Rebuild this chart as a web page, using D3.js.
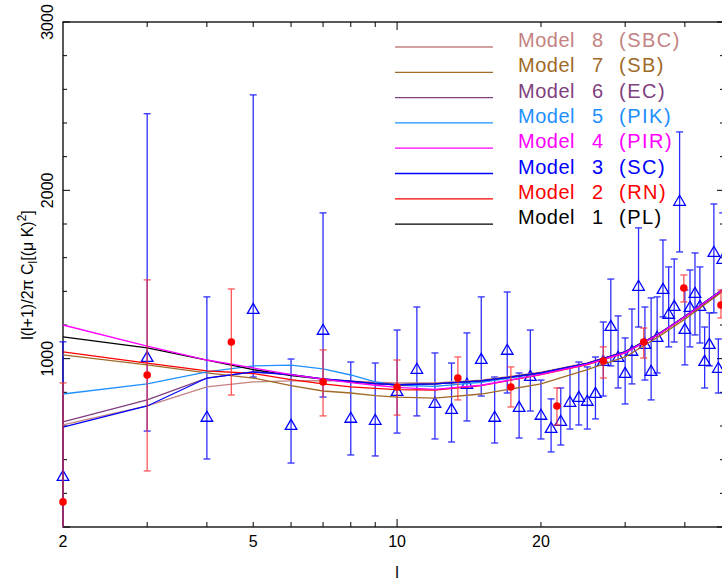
<!DOCTYPE html>
<html>
<head>
<meta charset="utf-8">
<script src="https://cdn.jsdelivr.net/npm/d3@7"></script>
<style>
body { margin: 0; background: #fff; }
svg text { font-family: "Liberation Sans", Arial, sans-serif; }
</style>
</head>
<body>
<div id="chart"></div>
<script>
// single multipoles (blue triangles)
var singleL   = [2,3,4,5,6,7,8,9,10,11,12,13,14,15,16,17,18,19,20,21,22,23,24,25,26,27,28,29,30,31,32,33,34,35,36,37,38,39,40,41,42,43,44,45,46,47,48];
var singleVal = [297,1004,648,1289,600,1165,642,630,802,933,731,695,844,992,648,1046,707,891,660,582,624,737,766,743,790,980,1188,1004,909,1040,1426,1081,921,1123,1408,1260,1307,1931,1170,1301,1384,1307,980,1081,1628,939,1586];
var singleHi  = [1100,2455,1367,2567,998,1866,980,974,1170,1307,1034,974,1153,1367,891,1396,915,1170,873,761,826,951,980,951,1010,1218,1473,1254,1123,1295,1777,1307,1361,1367,1705,1545,1592,2347,1408,1527,1628,1545,1188,1272,1919,1117,1866];
var singleLo  = [0,570,404,891,380,772,428,422,558,660,523,505,630,778,499,796,529,689,523,446,487,582,606,582,642,778,957,826,731,850,1188,873,755,915,1248,1070,1099,1634,963,1070,1141,1093,826,957,1272,796,1310];

// binned points (red dots)
var binL   = [2,3,4.5,7,10,13.4,17.3,21.6,27,32.8,39.8,47.6];
var binVal = [149,903,1099,862,832,885,832,719,986,1099,1420,1319];
var binHi  = [856,1468,1414,1052,992,1010,951,826,1070,1182,1497,1408];
var binLo  = [0,333,784,660,665,755,713,606,885,1004,1337,1242];

// model spectra
var modelL = [2,3,4,5,6,7,8,9,10,12,15,20,25,30,35,40,48];
var model1 = [1129,1064,992,935,900,878,862,852,845,850,868,915,972,1040,1141,1250,1410];
var model2 = [1040,974,927,912,875,850,832,824,816,814,840,905,965,1035,1138,1248,1408];
var model3 = [594,719,885,921,905,880,866,852,845,850,868,915,972,1040,1141,1250,1410];
var model4 = [1200,1075,992,945,905,878,858,842,830,818,842,907,967,1036,1139,1249,1409];
var model5 = [790,850,921,957,962,939,903,862,842,835,860,912,970,1038,1140,1250,1410];
var model6 = [624,755,885,921,905,880,866,852,845,850,868,915,972,1040,1141,1250,1410];
var model7 = [1022,963,915,885,840,808,796,780,772,766,790,850,935,1010,1125,1235,1400];
var model8 = [606,719,832,862,868,870,866,860,856,856,872,920,975,1042,1143,1252,1412];

var modelNums   = ["1","2","3","4","5","6","7","8"];
var modelTags   = ["(PL)","(RN)","(SC)","(PIR)","(PIK)","(EC)","(SB)","(SBC)"];
var modelColors = ["#000000","#ff0000","#0000ff","#ff00ff","#1e90ff","#803f80","#a06a28","#c48282"];

var xTickLabels = [2,5,10,20];
var xMinorTicks = [3,4,5,6,7,8,9,20,30,40];
var xMajorTicks = [10];
var yTickLabels = [1000,2000,3000];

var W = 722, H = 581;

var x = d3.scaleLog().domain([2, 48.3]).range([63, 724]);
var y = d3.scaleLinear().domain([0, 3000]).range([527, 22]);

var svg = d3.select("#chart").append("svg")
	.attr("width", W)
	.attr("height", H);

// frame
svg.append("rect")
	.attr("x", x(2)).attr("y", y(3000))
	.attr("width", x(48.3) - x(2)).attr("height", y(0) - y(3000))
	.style("fill", "none").style("stroke", "#000").style("stroke-width", 1.3);

// x ticks, bottom and top
function xTick(l, len) {
	svg.append("line").attr("x1", x(l)).attr("x2", x(l)).attr("y1", y(0)).attr("y2", y(0) - len)
		.style("stroke", "#000").style("stroke-width", 1);
	svg.append("line").attr("x1", x(l)).attr("x2", x(l)).attr("y1", y(3000)).attr("y2", y(3000) + len)
		.style("stroke", "#000").style("stroke-width", 1);
}
xMinorTicks.forEach(function(l) { xTick(l, 5) });
xMajorTicks.forEach(function(l) { xTick(l, 8) });

svg.selectAll(".xlab").data(xTickLabels).enter().append("text")
	.attr("x", function(d) { return x(d) })
	.attr("y", 547)
	.attr("text-anchor", "middle")
	.style("font-size", "16px")
	.text(function(d) { return d });

// y ticks, left and right
var yMinor = d3.range(200, 3000, 200).filter(function(v) { return v % 1000 != 0 });
var yMajor = [0, 1000, 2000, 3000];
function yTick(v, len) {
	svg.append("line").attr("x1", x(2)).attr("x2", x(2) + len).attr("y1", y(v)).attr("y2", y(v))
		.style("stroke", "#000").style("stroke-width", 1);
	svg.append("line").attr("x1", x(48.3)).attr("x2", x(48.3) - len).attr("y1", y(v)).attr("y2", y(v))
		.style("stroke", "#000").style("stroke-width", 1);
}
yMinor.forEach(function(v) { yTick(v, 4) });
yMajor.forEach(function(v) { yTick(v, 7) });

svg.selectAll(".ylab").data(yTickLabels).enter().append("text")
	.attr("transform", function(d) { return "translate(53," + y(d) + ") rotate(-90)" })
	.attr("text-anchor", "middle")
	.style("font-size", "16px")
	.text(function(d) { return d });

// axis titles
var yt = svg.append("text")
	.attr("transform", "translate(33,275) rotate(-90)")
	.attr("text-anchor", "middle")
	.style("font-size", "16px");
yt.append("tspan").text("l(l+1)/2\u03c0  C");
yt.append("tspan").attr("dy", 4).style("font-size", "12px").text("l");
yt.append("tspan").attr("dy", -4).text("[(\u03bc K)");
yt.append("tspan").attr("dy", -7).style("font-size", "12px").text("2");
yt.append("tspan").attr("dy", 7).text("]");

svg.append("text")
	.attr("x", x(10)).attr("y", 578)
	.attr("text-anchor", "middle")
	.style("font-size", "16px")
	.text("l");

// error bars
function errBar(l, hi, lo, color, opacity) {
	var g = svg.append("g").style("stroke", color).style("stroke-width", 1.3).style("opacity", opacity);
	var cx = x(l), y1 = y(hi), y2 = y(Math.max(lo, 0));
	g.append("line").attr("x1", cx).attr("x2", cx).attr("y1", y1).attr("y2", y2);
	g.append("line").attr("x1", cx - 3.5).attr("x2", cx + 3.5).attr("y1", y1).attr("y2", y1);
	if (lo > 0)
		g.append("line").attr("x1", cx - 3.5).attr("x2", cx + 3.5).attr("y1", y2).attr("y2", y2);
}

singleL.forEach(function(l, i) { errBar(l, singleHi[i], singleLo[i], "#0000ff", 0.82) });

var tri = d3.symbol().type(d3.symbolTriangle).size(58);
svg.selectAll(".tri").data(singleL).enter().append("path")
	.attr("d", tri)
	.attr("transform", function(d, i) { return "translate(" + x(d) + "," + y(singleVal[i]) + ")" })
	.style("fill", "none")
	.style("stroke", "#0000ff")
	.style("stroke-width", 1.3);

// model curves
var models = [model1, model2, model3, model4, model5, model6, model7, model8];
var line = d3.line()
	.x(function(d) { return x(d[0]) })
	.y(function(d) { return y(d[1]) });

[7, 6, 4, 1, 0, 5, 2, 3].forEach(function(m) {
	svg.append("path")
		.attr("d", line(d3.zip(modelL, models[m])))
		.style("fill", "none")
		.style("stroke", modelColors[m])
		.style("stroke-width", 1.3);
});

// binned points
binL.forEach(function(l, i) { errBar(l, binHi[i], binLo[i], "#ff3030", 0.8) });
svg.selectAll(".dot").data(binL).enter().append("circle")
	.attr("cx", function(d) { return x(d) })
	.attr("cy", function(d, i) { return y(binVal[i]) })
	.attr("r", 3.8)
	.style("fill", "#ff0000");

// legend, model 8 at top
var legend = svg.append("g");
for (var k = 7; k >= 0; k--) {
	var ly = 47 + (7 - k) * 25.3;
	legend.append("line")
		.attr("x1", 395).attr("x2", 493).attr("y1", ly).attr("y2", ly)
		.style("stroke", modelColors[k]).style("stroke-width", 1.3);
	legend.append("text").attr("x", 518).attr("y", ly)
		.style("font-size", "20px").style("fill", modelColors[k]).style("letter-spacing", "0.5px")
		.text("Model");
	legend.append("text").attr("x", 592).attr("y", ly)
		.style("font-size", "20px").style("fill", modelColors[k])
		.text(modelNums[k]);
	legend.append("text").attr("x", 619).attr("y", ly)
		.style("font-size", "20px").style("fill", modelColors[k]).style("letter-spacing", "1.5px")
		.text(modelTags[k]);
}
</script>
</body>
</html>
